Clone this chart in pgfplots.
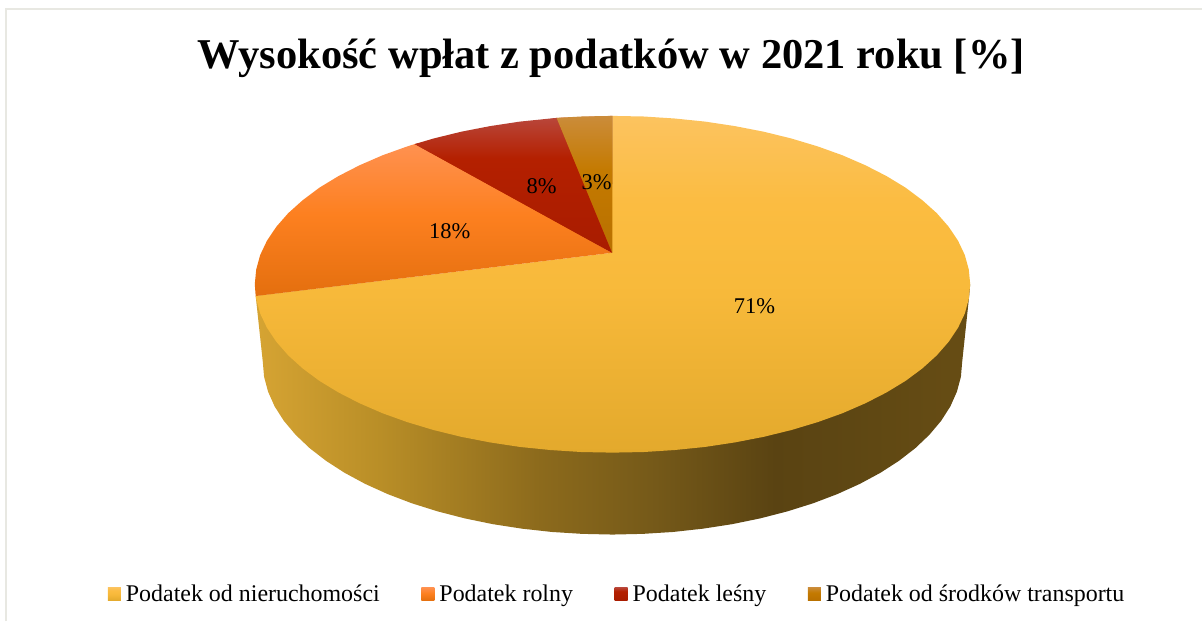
\documentclass[border=0pt]{standalone}
\usepackage{pgfplots}
\pgfplotsset{compat=1.18}
\usepackage{fontspec}
\setmainfont{Liberation Serif}
\definecolor{frameline}{HTML}{E8E8E2}
\pgfdeclareverticalshading{goldtop}{100bp}{
  rgb(0bp)=(0.890,0.663,0.173); rgb(25bp)=(0.890,0.663,0.173);
  rgb(50bp)=(0.973,0.729,0.231); rgb(62bp)=(0.984,0.737,0.255);
  rgb(75bp)=(0.988,0.765,0.373); rgb(100bp)=(0.988,0.765,0.373)}
\pgfdeclareverticalshading{orangetop}{100bp}{
  rgb(0bp)=(0.894,0.435,0.055); rgb(25bp)=(0.894,0.435,0.055);
  rgb(52bp)=(0.992,0.502,0.125); rgb(75bp)=(1.0,0.569,0.314); rgb(100bp)=(1.0,0.569,0.314)}
\pgfdeclareverticalshading{redtop}{100bp}{
  rgb(0bp)=(0.659,0.110,0.0); rgb(25bp)=(0.659,0.110,0.0);
  rgb(60bp)=(0.706,0.125,0.0); rgb(75bp)=(0.725,0.275,0.227); rgb(100bp)=(0.725,0.275,0.227)}
\pgfdeclareverticalshading{darktop}{100bp}{
  rgb(0bp)=(0.722,0.439,0.0); rgb(25bp)=(0.722,0.439,0.0);
  rgb(55bp)=(0.769,0.478,0.0); rgb(75bp)=(0.796,0.549,0.227); rgb(100bp)=(0.796,0.549,0.227)}
\pgfdeclarehorizontalshading{goldside}{100bp}{
  rgb(0bp)=(0.839,0.643,0.200); rgb(25bp)=(0.839,0.643,0.200);
  rgb(33.7bp)=(0.725,0.557,0.153);
  rgb(44.9bp)=(0.549,0.416,0.110);
  rgb(52.6bp)=(0.463,0.353,0.098);
  rgb(61.3bp)=(0.353,0.263,0.071);
  rgb(66.5bp)=(0.369,0.278,0.075);
  rgb(75bp)=(0.404,0.302,0.078); rgb(100bp)=(0.404,0.302,0.078)}
\begin{document}
\begin{tikzpicture}
\begin{axis}[
  scale only axis, width=1203pt, height=622pt,
  xmin=0, xmax=1203, ymin=0, ymax=622, y dir=reverse,
  hide axis, clip=false,
  title={\fontsize{42.5}{50}\selectfont\bfseries Wysokość wpłat z podatków w 2021 roku [\%]},
  title style={at={(0.5085,0.880)}, anchor=base, inner sep=0pt},
  legend columns=4,
  legend cell align=left,
  legend style={at={(0.0898,0.0455)}, anchor=west, draw=none, fill=none, inner sep=0pt, outer sep=0pt,
    font=\fontsize{23.95}{28}\selectfont,
    /tikz/every even column/.append style={column sep=41.7pt},
    nodes={inner sep=0pt, outer sep=0pt, text depth=0pt}},
  legend image code/.code={\path[#1] (0pt,-7.5pt) rectangle (13pt,6pt); \path (18pt,0pt);},
]
\path (axis cs:0,0) rectangle (axis cs:1203,622);
% frame
\addplot[frameline, line width=2pt, forget plot] coordinates {(6,622) (6,9) (1203,9)};
% side wall
\addplot[draw=none, shade, shading=goldside, forget plot] coordinates {
(971,284.5) (970,296) (963,362) (961.7,377.1) (957.7,392) (951.1,406.8) (941.9,421.2) (930.2,435.1)
(916.1,448.5) (899.7,461.2) (881.1,473.2) (860.5,484.3) (838,494.5) (813.8,503.7) (788,511.8)
(760.9,518.8) (732.7,524.6) (703.6,529.1) (673.8,532.4) (643.5,534.3) (613,535) (582.5,534.3)
(552.2,532.4) (522.4,529.1) (493.3,524.6) (465.1,518.8) (438,511.8) (412.2,503.7) (388,494.5)
(365.5,484.3) (344.9,473.2) (326.3,461.2) (309.9,448.5) (295.8,435.1) (284.1,421.2) (274.9,406.8)
(268.3,392) (264.3,377.1) (263,362) (255.9,296.3) (613,254)} -- cycle;
% seam underlay beneath the thin slices
\addplot[draw=none, fill=black!0!orange!55!red!80!black, forget plot] coordinates {
(613,116) (613,253) (415,150) (415,144.2) (557,118)} -- cycle;
% Podatek od nieruchomosci 71
\addplot[draw=none, shade, shading=goldtop] coordinates {
(612.5,253) (613,116) (644.2,116.6) (675.2,118.6) (705.7,121.7) (735.4,126.2) (764.3,131.8) (792,138.6)
(818.3,146.5) (843.1,155.4) (866.1,165.4) (887.2,176.2) (906.3,187.8) (923,200.3) (937.5,213.3)
(949.4,226.9) (958.8,240.9) (965.6,255.2) (969.6,269.8) (971,284.5) (969.6,299.2) (965.6,313.8)
(958.8,328.1) (949.4,342.1) (937.5,355.7) (923,368.8) (906.3,381.2) (887.2,392.8) (866.1,403.6)
(843.1,413.6) (818.3,422.5) (792,430.4) (764.3,437.2) (735.4,442.8) (705.7,447.3) (675.2,450.4)
(644.2,452.4) (613,453) (581.8,452.4) (550.8,450.4) (520.3,447.3) (490.6,442.8) (461.7,437.2)
(434,430.4) (407.7,422.5) (382.9,413.6) (359.9,403.6) (338.8,392.8) (319.7,381.2) (303,368.8)
(288.5,355.7) (276.6,342.1) (267.2,328.1) (260.4,313.8) (256.4,299.2) (255.9,296.3)} -- cycle;
\addlegendentry{Podatek od nieruchomości}
% Podatek rolny 18
\addplot[draw=none, shade, shading=orangetop] coordinates {
(612.5,253) (255.9,296.3) (255,284.5) (256.4,269.8) (260.4,255.2) (267.2,240.9) (276.6,226.9)
(288.5,213.3) (303,200.3) (319.7,187.8) (338.8,176.2) (359.9,165.4) (382.9,155.4) (407.7,146.5) (415,144.2)} -- cycle;
\addlegendentry{Podatek rolny}
% Podatek lesny 8
\addplot[draw=none, shade, shading=redtop] coordinates {
(612.5,253) (415,144.2) (434,138.6) (461.7,131.8) (490.6,126.2) (520.3,121.7) (550.8,118.6) (557,118)} -- cycle;
\addlegendentry{Podatek leśny}
% Podatek od srodkow transportu 3
\addplot[draw=none, shade, shading=darktop] coordinates {
(612.8,253) (557,118) (581.8,116.6) (613.2,116)} -- cycle;
\addlegendentry{Podatek od środków transportu}
\node[font=\fontsize{22.5}{26}\selectfont] at (axis cs:755,306) {71\%};
\node[font=\fontsize{22.5}{26}\selectfont] at (axis cs:450,231) {18\%};
\node[font=\fontsize{22.5}{26}\selectfont] at (axis cs:542,186) {8\%};
\node[font=\fontsize{22.5}{26}\selectfont] at (axis cs:597,182) {3\%};
\end{axis}
\end{tikzpicture}
\end{document}
